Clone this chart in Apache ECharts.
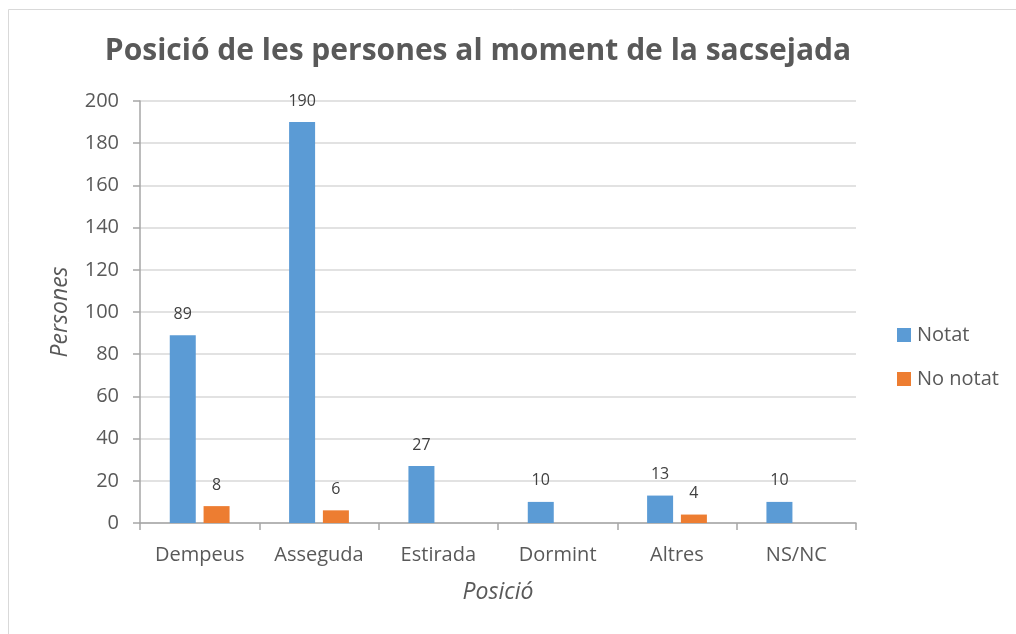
<!DOCTYPE html>
<html>
<head>
<meta charset="utf-8">
<script src="https://cdn.jsdelivr.net/npm/echarts@6/dist/echarts.min.js"></script>
<style>
  html, body { margin: 0; padding: 0; background: #fff; }
  #chart { width: 1016px; height: 634px; }
</style>
</head>
<body>
<div id="chart"></div>
<script>
// data
var categories = ['Dempeus', 'Asseguda', 'Estirada', 'Dormint', 'Altres', 'NS/NC'];
var notat = [89, 190, 27, 10, 13, 10];
var noNotat = [8, 6, '-', '-', 4, '-'];
var yTicks = { min: 0, max: 200, interval: 20 };

var textColor = '#595959';
var font = 'Open Sans';

var chart = echarts.init(document.getElementById('chart'));
var option = {
  backgroundColor: '#fff',
  textStyle: { fontFamily: font, color: textColor },
  graphic: [{
    type: 'rect',
    shape: { x: 8.5, y: 9.5, width: 1100, height: 700 },
    style: { fill: 'none', stroke: '#d9d9d9', lineWidth: 1 },
    silent: true
  }],
  title: {
    text: 'Posició de les persones al moment de la sacsejada',
    left: 473,
    top: 31,
    textAlign: 'center',
    textStyle: { fontFamily: font, fontSize: 30, fontWeight: 'bold', color: textColor }
  },
  legend: {
    orient: 'vertical',
    left: 892,
    top: 320,
    itemWidth: 14,
    itemHeight: 14,
    itemGap: 24,
    icon: 'rect',
    textStyle: { fontFamily: font, fontSize: 20, color: textColor, padding: [0, 0, 0, 1] },
    data: ['Notat', 'No notat']
  },
  grid: { left: 140, right: 160, top: 101, bottom: 111, containLabel: false },
  xAxis: {
    type: 'category',
    data: categories,
    name: 'Posició',
    nameLocation: 'middle',
    nameGap: 58,
    nameTextStyle: { fontFamily: font, fontSize: 23, fontStyle: 'italic', color: textColor },
    axisLine: { lineStyle: { color: '#a6a6a6', width: 1.5 } },
    axisTick: { show: true, length: 7, lineStyle: { color: '#a6a6a6', width: 1.5 } },
    axisLabel: { fontFamily: font, fontSize: 20, color: textColor, margin: 22 }
  },
  yAxis: {
    type: 'value',
    min: yTicks.min,
    max: yTicks.max,
    interval: yTicks.interval,
    name: 'Persones',
    nameLocation: 'middle',
    nameGap: 68,
    nameTextStyle: { fontFamily: font, fontSize: 23, fontStyle: 'italic', color: textColor },
    axisLine: { show: true, lineStyle: { color: '#a6a6a6', width: 1.5 } },
    axisTick: { show: true, length: 7, lineStyle: { color: '#a6a6a6', width: 1.5 } },
    axisLabel: { fontFamily: font, fontSize: 20, color: textColor, margin: 21 },
    splitLine: { lineStyle: { color: '#d9d9d9', width: 1.5 } }
  },
  series: [
    {
      name: 'Notat',
      type: 'bar',
      data: notat,
      barWidth: 26,
      barGap: '30%',
      itemStyle: { color: '#5b9bd5' },
      label: { show: true, position: 'top', distance: 13, fontFamily: font, fontSize: 16, color: '#404040' }
    },
    {
      name: 'No notat',
      type: 'bar',
      data: noNotat,
      barWidth: 26,
      barGap: '30%',
      itemStyle: { color: '#ed7d31' },
      label: { show: true, position: 'top', distance: 13, fontFamily: font, fontSize: 16, color: '#404040' }
    }
  ]
};
chart.setOption(option);
</script>
</body>
</html>
